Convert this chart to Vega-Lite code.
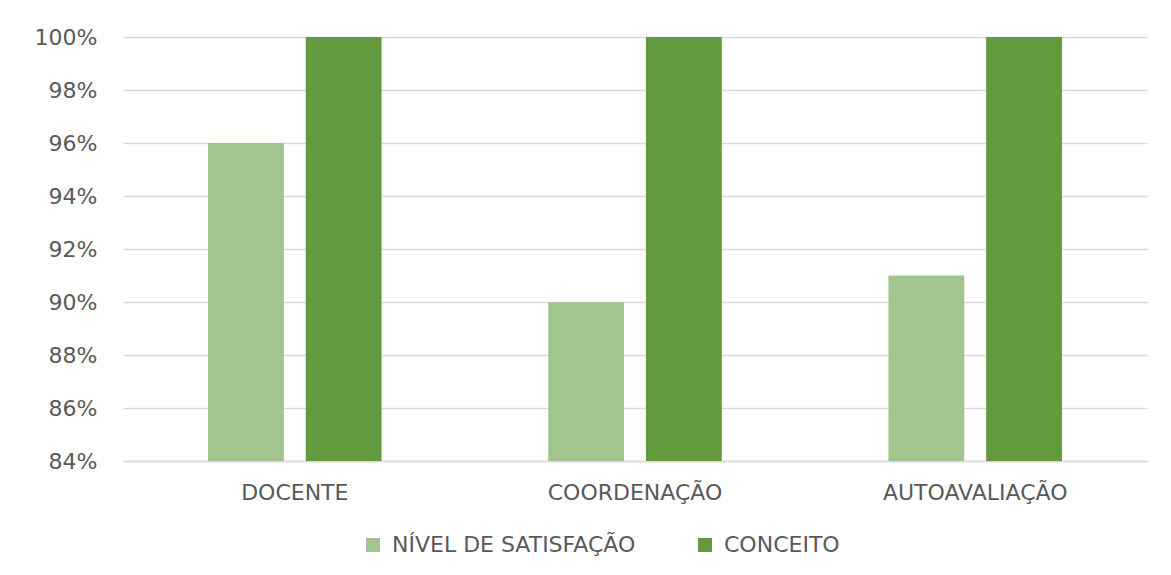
{
  "$schema": "https://vega.github.io/schema/vega-lite/v6.json",
  "width": 1024,
  "height": 424,
  "autosize": {"type": "none"},
  "padding": {"left": 123, "top": 37, "right": 24, "bottom": 114},
  "background": "white",
  "config": {
    "view": {"stroke": null},
    "font": "DejaVu Sans"
  },
  "data": {
    "values": [
      {"categoria": "DOCENTE", "serie": "NÍVEL DE SATISFAÇÃO", "valor": 0.96},
      {"categoria": "DOCENTE", "serie": "CONCEITO", "valor": 1.0},
      {"categoria": "COORDENAÇÃO", "serie": "NÍVEL DE SATISFAÇÃO", "valor": 0.90},
      {"categoria": "COORDENAÇÃO", "serie": "CONCEITO", "valor": 1.0},
      {"categoria": "AUTOAVALIAÇÃO", "serie": "NÍVEL DE SATISFAÇÃO", "valor": 0.91},
      {"categoria": "AUTOAVALIAÇÃO", "serie": "CONCEITO", "valor": 1.0}
    ]
  },
  "mark": {"type": "bar", "clip": true},
  "encoding": {
    "x": {
      "field": "categoria",
      "type": "nominal",
      "sort": ["DOCENTE", "COORDENAÇÃO", "AUTOAVALIAÇÃO"],
      "scale": {"paddingInner": 0.49, "paddingOuter": 0.25},
      "axis": {
        "title": null,
        "labelAngle": 0,
        "labelFont": "DejaVu Sans",
        "labelFontSize": 22,
        "labelColor": "#595959",
        "labelPadding": 21,
        "labelLimit": 0,
        "ticks": false,
        "domainColor": "#d9d9d9",
        "domainWidth": 1.5
      }
    },
    "xOffset": {
      "field": "serie",
      "type": "nominal",
      "sort": ["NÍVEL DE SATISFAÇÃO", "CONCEITO"],
      "scale": {"paddingInner": 0.224, "paddingOuter": 0}
    },
    "y": {
      "field": "valor",
      "type": "quantitative",
      "scale": {"domain": [0.84, 1.0], "nice": false, "zero": false},
      "axis": {
        "title": null,
        "format": ".0%",
        "values": [0.84, 0.86, 0.88, 0.90, 0.92, 0.94, 0.96, 0.98, 1.0],
        "labelFont": "DejaVu Sans",
        "labelFontSize": 22,
        "labelColor": "#595959",
        "labelPadding": 26,
        "ticks": false,
        "domain": false,
        "gridColor": "#d9d9d9",
        "gridWidth": 1.5
      }
    },
    "color": {
      "field": "serie",
      "type": "nominal",
      "sort": ["NÍVEL DE SATISFAÇÃO", "CONCEITO"],
      "scale": {"domain": ["NÍVEL DE SATISFAÇÃO", "CONCEITO"], "range": ["#a2c48e", "#629a3d"]},
      "legend": {
        "title": null,
        "orient": "none",
        "legendX": 239,
        "legendY": 497,
        "direction": "horizontal",
        "symbolType": "square",
        "symbolSize": 196,
        "symbolStrokeWidth": 0,
        "labelFont": "DejaVu Sans",
        "labelFontSize": 22,
        "labelColor": "#595959",
        "labelLimit": 0,
        "labelOffset": 8,
        "columnPadding": 58
      }
    }
  }
}
